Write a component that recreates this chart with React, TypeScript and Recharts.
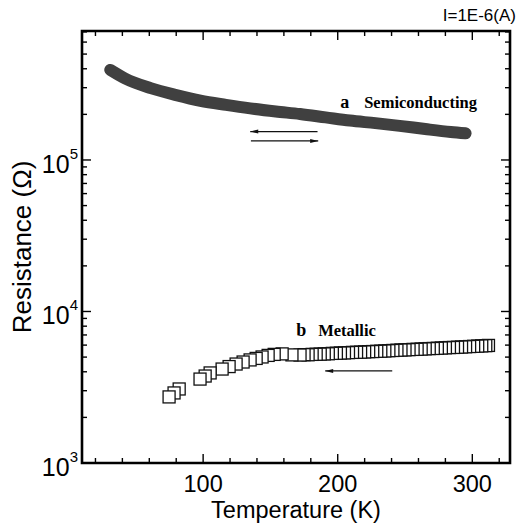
import React from 'react';
import {
    ComposedChart,
    Line,
    Scatter,
    XAxis,
    YAxis,
    ReferenceArea,
    ReferenceLine,
    ReferenceDot,
} from 'recharts';

// a: semiconducting sample (dense band of points)
const semiTemp = [31, 42, 61, 80, 98, 117, 135, 154, 172, 191, 209, 228, 246, 265, 284, 295];
const semiRes = [
    393000, 345000, 298000, 268000, 246000, 231000, 219000, 209000, 201000, 191000, 182000, 175000,
    168000, 160000, 153000, 150000,
];

// b: metallic sample (open squares)
const metTemp = [
    74.7, 78.4, 82.2, 97.7, 101.5, 105.2, 114.1, 119.3, 124.5, 129.7, 134.9, 139.4, 143.8, 148.3, 152.8,
    158.7, 166, 172, 175, 178, 181, 184, 187, 190, 193, 196, 199, 202, 205, 208, 211, 214, 217, 220, 223,
    226, 229, 232, 235, 238, 241, 244, 247, 250, 253, 256, 259, 262, 265, 268, 271, 274, 277, 280, 283,
    286, 289, 292, 295, 298, 301, 304, 307, 310, 312,
];
const metRes = [
    2730, 2900, 3080, 3580, 3750, 3930, 4170, 4330, 4500, 4640, 4790, 4900, 5010, 5130, 5210, 5250, 5170,
    5160, 5190, 5180, 5210, 5220, 5230, 5250, 5260, 5290, 5300, 5320, 5330, 5350, 5370, 5380, 5390, 5410,
    5430, 5440, 5460, 5470, 5490, 5510, 5530, 5550, 5570, 5580, 5600, 5620, 5630, 5650, 5670, 5690, 5700,
    5720, 5740, 5760, 5780, 5790, 5810, 5830, 5850, 5870, 5890, 5910, 5930, 5950, 5970,
];

const xTicks = [20, 40, 60, 80, 100, 120, 140, 160, 180, 200, 220, 240, 260, 280, 300, 320];
const xLabels = [100, 200, 300];
const yTicks = [
    1000, 2000, 3000, 4000, 5000, 6000, 7000, 8000, 9000, 10000, 20000, 30000, 40000, 50000, 60000,
    70000, 80000, 90000, 100000, 200000, 300000, 400000, 500000, 600000, 700000,
];

const semiData = semiTemp.map((t, i) => ({ t, r: semiRes[i] }));
// measured while cooling, so lower temperatures sit on top
const metData = metTemp.map((t, i) => ({ t, r: metRes[i] })).reverse();

const PLOT_TOP = 31;
const PLOT_RIGHT = 510;
const SANS = '"Liberation Sans", Arial, Helvetica, sans-serif';
const SERIF = '"Liberation Serif", "Times New Roman", serif';

function XTick({ x, y, payload }: any) {
    const major = xLabels.includes(payload.value);
    const len = major ? 9 : 5;
    return (
        <g>
            <line x1={x} x2={x} y1={y} y2={y - len} stroke="#000" strokeWidth={1.4} />
            <line x1={x} x2={x} y1={PLOT_TOP} y2={PLOT_TOP + len} stroke="#000" strokeWidth={1.4} />
            {major && (
                <text x={x} y={y + 29} textAnchor="middle" fontFamily={SANS} fontSize={23.5} fill="#000">
                    {payload.value}
                </text>
            )}
        </g>
    );
}

function YTick({ x, y, payload }: any) {
    const lg = Math.log10(payload.value);
    const exp = Math.round(lg);
    const major = Math.abs(lg - exp) < 1e-6;
    const len = major ? 9 : 5;
    return (
        <g>
            <line x1={x} x2={x + len} y1={y} y2={y} stroke="#000" strokeWidth={1.4} />
            <line x1={PLOT_RIGHT - len} x2={PLOT_RIGHT} y1={y} y2={y} stroke="#000" strokeWidth={1.4} />
            {major && (
                <text x={x - 4} y={y + 13} textAnchor="end" fontFamily={SANS} fontSize={25} fill="#000">
                    <tspan>10</tspan>
                    <tspan dy={-14} fontSize={15}>
                        {exp}
                    </tspan>
                </text>
            )}
        </g>
    );
}

function Arrow({ x1, y1, x2, y2 }: any) {
    const dir = x2 > x1 ? 1 : -1;
    return (
        <g>
            <line x1={x1} y1={y1} x2={x2} y2={y2} stroke="#111" strokeWidth={1.2} />
            <polygon
                points={`${x2},${y2} ${x2 - dir * 8},${y2 - 2} ${x2 - dir * 8},${y2 + 2}`}
                fill="#111"
            />
        </g>
    );
}

function OpenSquare({ cx, cy }: any) {
    return <rect x={cx - 6} y={cy - 6} width={12} height={12} fill="#fff" stroke="#111" strokeWidth={1.3} />;
}

export default function App() {
    return (
        <div style={{ position: 'absolute', left: 0, top: 0, width: 519, height: 525, background: '#fff' }}>
            <div
                style={{
                    position: 'absolute',
                    right: 3,
                    top: 6,
                    fontFamily: SANS,
                    fontSize: 17,
                    color: '#000',
                }}
            >
                I=1E-6(A)
            </div>
            <ComposedChart
                width={519}
                height={525}
                margin={{ top: 31, right: 9, bottom: 0, left: 0 }}
            >
                <XAxis
                    dataKey="t"
                    type="number"
                    domain={[10, 328]}
                    allowDataOverflow
                    ticks={xTicks}
                    tick={<XTick />}
                    tickSize={0}
                    tickMargin={0}
                    tickLine={false}
                    axisLine={false}
                    height={62}
                    interval={0}
                    label={{
                        content: ({ viewBox }: any) => (
                            <text
                                x={viewBox.x + viewBox.width / 2}
                                y={viewBox.y + 55}
                                textAnchor="middle"
                                fontFamily={SANS}
                                fontSize={23.5}
                                fill="#000"
                            >
                                Temperature (K)
                            </text>
                        ),
                    }}
                />
                <YAxis
                    dataKey="r"
                    type="number"
                    scale="log"
                    domain={[1000, 710000]}
                    allowDataOverflow
                    ticks={yTicks}
                    tick={<YTick />}
                    tickSize={0}
                    tickMargin={0}
                    tickLine={false}
                    axisLine={false}
                    width={82}
                    interval={0}
                    label={{
                        content: ({ viewBox }: any) => {
                            const cx = 22;
                            const cy = viewBox.y + viewBox.height / 2;
                            return (
                                <text
                                    x={cx}
                                    y={cy}
                                    transform={`rotate(-90 ${cx} ${cy})`}
                                    textAnchor="middle"
                                    dominantBaseline="central"
                                    fontFamily={SANS}
                                    fontSize={26}
                                    fill="#000"
                                >
                                    Resistance (Ω)
                                </text>
                            );
                        },
                    }}
                />
                <Line
                    data={semiData}
                    dataKey="r"
                    type="monotone"
                    stroke="#404040"
                    strokeWidth={12}
                    strokeLinecap="round"
                    dot={false}
                    isAnimationActive={false}
                />
                <Scatter data={metData} dataKey="r" shape={<OpenSquare />} isAnimationActive={false} />
                <ReferenceLine
                    segment={[
                        { x: 185, y: 154000 },
                        { x: 135, y: 154000 },
                    ]}
                    shape={<Arrow />}
                />
                <ReferenceLine
                    segment={[
                        { x: 135.5, y: 133500 },
                        { x: 185.5, y: 133500 },
                    ]}
                    shape={<Arrow />}
                />
                <ReferenceLine
                    segment={[
                        { x: 240.5, y: 4050 },
                        { x: 190.7, y: 4050 },
                    ]}
                    shape={<Arrow />}
                />
                <ReferenceDot
                    x={201.8}
                    y={220000}
                    r={0}
                    shape={({ cx, cy }: any) => (
                        <text x={cx} y={cy} fontFamily={SERIF} fontWeight="bold" fill="#000">
                            <tspan fontSize={18}>a</tspan>
                            <tspan x={cx + 24} fontSize={16.5}>
                                Semiconducting
                            </tspan>
                        </text>
                    )}
                />
                <ReferenceDot
                    x={169.1}
                    y={6890}
                    r={0}
                    shape={({ cx, cy }: any) => (
                        <text x={cx} y={cy} fontFamily={SERIF} fontWeight="bold" fill="#000">
                            <tspan fontSize={18}>b</tspan>
                            <tspan x={cx + 22} fontSize={16.5}>
                                Metallic
                            </tspan>
                        </text>
                    )}
                />
                <ReferenceArea
                    x1={10}
                    x2={328}
                    y1={1000}
                    y2={710000}
                    fill="none"
                    fillOpacity={0}
                    stroke="#000"
                    strokeWidth={2.6}
                    ifOverflow="visible"
                />
            </ComposedChart>
        </div>
    );
}
